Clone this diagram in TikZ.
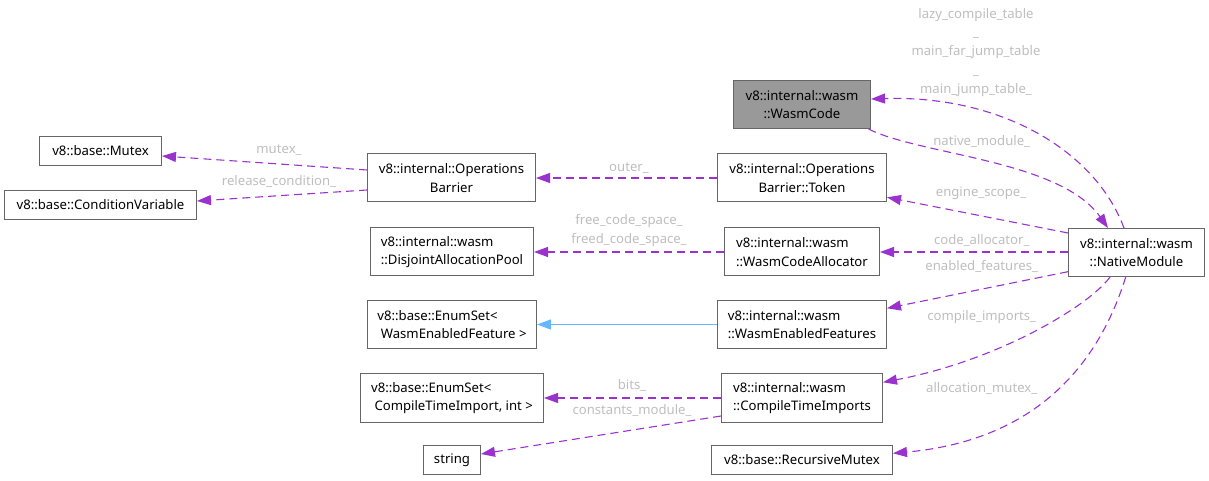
\documentclass[tikz,border=0pt]{standalone}
\usepackage{fontspec}
\setmainfont{Noto Sans}
\usetikzlibrary{arrows.meta}
\definecolor{boxborder}{HTML}{666666}
\definecolor{boxgray}{HTML}{999999}
\definecolor{deppurple}{HTML}{9A32CD}
\definecolor{inhblue}{HTML}{63B8FF}
\definecolor{lblgray}{HTML}{BEBEBE}
\tikzset{
  cls/.style={draw=boxborder, fill=white, line width=1bp, inner sep=0pt, align=center,
    font=\fontsize{13.2}{18.3}\selectfont},
  clsl/.style={cls, align=left},
  dep/.style={draw=deppurple, line width=1.1bp, dash pattern=on 8bp off 5bp,
    -{Triangle[length=14bp,width=10bp,fill=deppurple]}},
  inh/.style={draw=inhblue, line width=1.1bp, -{Triangle[length=14bp,width=10bp,fill=inhblue]}},
  lbl/.style={text=lblgray, inner sep=0pt, align=center, font=\fontsize{13.2}{19}\selectfont},
}
\begin{document}
\begin{tikzpicture}[x=1bp,y=-1bp]
\useasboundingbox (0,0) rectangle (1209,481);
% nodes
\node[cls, fill=boxgray, minimum width=137bp, minimum height=48bp] (wc) at (802,104.5) {v8::internal::wasm\\::WasmCode};
\node[cls, minimum width=122bp, minimum height=29bp] (mutex) at (100.5,151) {v8::base::Mutex};
\node[cls, minimum width=192bp, minimum height=29bp] (cv) at (100.5,205) {v8::base::ConditionVariable};
\node[cls, minimum width=168bp, minimum height=48bp] (ob) at (451.5,178) {v8::internal::Operations\\Barrier};
\node[cls, minimum width=169bp, minimum height=48bp] (tok) at (802,178) {v8::internal::Operations\\Barrier::Token};
\node[clsl, minimum width=163bp, minimum height=48bp] (dap) at (452,252) {v8::internal::wasm\\::DisjointAllocationPool};
\node[clsl, minimum width=155bp, minimum height=48bp] (wca) at (802,252) {v8::internal::wasm\\::WasmCodeAllocator};
\node[cls, minimum width=136bp, minimum height=48bp] (nm) at (1136.5,252.5) {v8::internal::wasm\\::NativeModule};
\node[clsl, minimum width=169bp, minimum height=48bp] (es1) at (452,324.5) {v8::base::EnumSet<\\\ WasmEnabledFeature >};
\node[clsl, minimum width=169bp, minimum height=48bp] (wef) at (802,324.5) {v8::internal::wasm\\::WasmEnabledFeatures};
\node[clsl, minimum width=183bp, minimum height=48bp] (es2) at (452,398) {v8::base::EnumSet<\\\ CompileTimeImport, int >};
\node[clsl, minimum width=161bp, minimum height=48bp] (cti) at (802,398) {v8::internal::wasm\\::CompileTimeImports};
\node[cls, minimum width=57bp, minimum height=29bp] (str) at (452,460) {string};
\node[cls, minimum width=181bp, minimum height=29bp] (rm) at (802,460) {v8::base::RecursiveMutex};
% edges
\draw[dep] ([yshift=8bp]ob.west) -- ([yshift=-5bp]mutex.east);
\draw[dep] ([yshift=-12bp]ob.west) -- ([yshift=4bp]cv.east);
\draw[dep] (tok.west) -- (ob.east);
\draw[dep] (wca.west) -- (dap.east);
\draw[inh] (wef.west) -- (es1.east);
\draw[dep] (cti.west) -- (es2.east);
\draw[dep] ([yshift=-18bp]cti.west) -- ([yshift=6bp]str.east);
\draw[dep] ([xshift=-12.5bp]nm.north) .. controls (1095,150) and (1000,95) .. ([yshift=5.5bp]wc.east);
\draw[dep] ([xshift=-2.5bp]wc.south east) .. controls (920,155) and (1060,160) .. ([xshift=-28.5bp]nm.north);
\draw[dep] ([yshift=19.5bp]nm.west) -- ([yshift=-19.3bp]tok.east);
\draw[dep] ([yshift=0.5bp]nm.west) -- (wca.east);
\draw[dep] ([yshift=-19.2bp]nm.west) -- ([yshift=16.2bp]wef.east);
\draw[dep] ([xshift=-26.5bp]nm.south) .. controls (1090,305) and (1000,360) .. ([yshift=15.7bp]cti.east);
\draw[dep] ([xshift=-10.8bp]nm.south) .. controls (1100,360) and (1040,440) .. ([yshift=6.7bp]rm.east);
% labels
\node[lbl] (l1) at (279,150) {mutex\_};
\node[lbl] (l2) at (279,182) {release\_condition\_};
\node[lbl] (l3) at (629,168) {outer\_};
\node[lbl] (l4) at (629,231) {free\_code\_space\_\\freed\_code\_space\_};
\node[lbl] (l5) at (632,386) {bits\_};
\node[lbl] (l6) at (632,411) {constants\_module\_};
\node[lbl] (l7) at (976,52.5) {lazy\_compile\_table\\\_\\main\_far\_jump\_table\\\_\\main\_jump\_table\_};
\node[lbl] (l8) at (981.7,142) {native\_module\_};
\node[lbl] (l9) at (981,193) {engine\_scope\_};
\node[lbl] (l10) at (981.7,241) {code\_allocator\_};
\node[lbl] (l11) at (981.7,266) {enabled\_features\_};
\node[lbl] (l12) at (981.7,317) {compile\_imports\_};
\node[lbl] (l13) at (981.7,389) {allocation\_mutex\_};
\end{tikzpicture}
\end{document}
